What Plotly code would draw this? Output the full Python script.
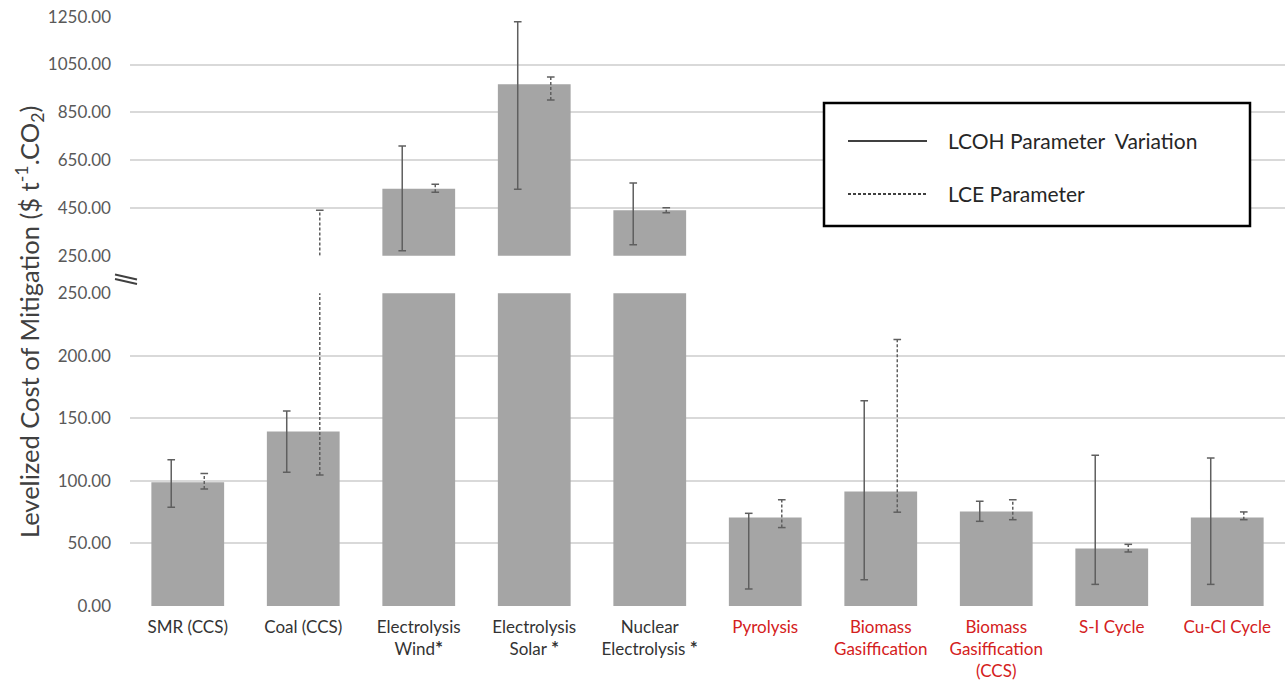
import plotly.graph_objects as go

# ---- data -------------------------------------------------------------
categories = [
    "SMR (CCS)", "Coal (CCS)", "Electrolysis Wind", "Electrolysis Solar",
    "Nuclear Electrolysis", "Pyrolysis", "Biomass Gasiffication",
    "Biomass Gasiffication (CCS)", "S-I Cycle", "Cu-Cl Cycle",
]
tick_labels = [
    "SMR (CCS)", "Coal (CCS)", "Electrolysis<br>Wind*", "Electrolysis<br>Solar *",
    "Nuclear<br>Electrolysis *", "Pyrolysis", "Biomass<br>Gasiffication",
    "Biomass<br>Gasiffication<br>(CCS)", "S-I Cycle", "Cu-Cl Cycle",
]
emerging = [False, False, False, False, False, True, True, True, True, True]

mitigation_cost = [99.0, 139.5, 530.0, 967.0, 440.0, 70.7, 91.5, 75.5, 45.9, 70.7]
lcoh_low = [79.0, 107.0, 271.0, 528.0, 296.0, 13.6, 21.0, 67.7, 17.3, 17.3]
lcoh_high = [117.0, 156.0, 709.0, 1229.0, 554.0, 74.1, 164.0, 83.7, 120.5, 118.4]
lce_low = [93.6, 104.8, 515.0, 901.0, 430.0, 62.7, 75.0, 69.0, 43.2, 69.0]
lce_high = [105.9, 440.0, 549.0, 998.0, 451.0, 85.0, 213.0, 85.0, 49.3, 75.2]

lower_ticks = [0, 50, 100, 150, 200, 250]
upper_ticks = [250, 450, 650, 850, 1050, 1250]

# ---- figure geometry ----------------------------------------------------
W, H = 1288, 684
ML, MR = 130, 3
PW = W - ML - MR


def px_x(p):
    return (p - ML) / PW


def px_y(p):
    return (H - p) / H


FONT = "Lato, 'Open Sans', sans-serif"
BAR_COLOR = "#a5a5a5"
WHISKER = "#5f5f5f"
GRID = "#d9d9d9"
RED = "#d42020"

x_idx = list(range(len(categories)))
SHIFT = 0.143     # horizontal offset of each whisker from the bar centre
CAP = 0.033       # half-width of whisker caps


def whisker_paths(lows, highs, shift):
    xs, ys, cx, cy = [], [], [], []
    for i, (lo, hi) in enumerate(zip(lows, highs)):
        xc = i + shift
        xs += [xc, xc, None]
        ys += [lo, hi, None]
        for v in (lo, hi):
            cx += [xc - CAP, xc + CAP, None]
            cy += [v, v, None]
    return xs, ys, cx, cy


lcoh_x, lcoh_y, lcoh_cx, lcoh_cy = whisker_paths(lcoh_low, lcoh_high, -SHIFT)
lce_x, lce_y, lce_cx, lce_cy = whisker_paths(lce_low, lce_high, SHIFT)

fig = go.Figure()

for xa, ya in (("x", "y"), ("x2", "y2")):
    fig.add_trace(go.Bar(
        x=x_idx, y=mitigation_cost, width=0.63, marker_color=BAR_COLOR,
        marker_line_width=0, xaxis=xa, yaxis=ya, showlegend=False,
        name="Mitigation cost", hoverinfo="skip",
    ))
    fig.add_trace(go.Scatter(
        x=lcoh_x, y=lcoh_y, mode="lines", xaxis=xa, yaxis=ya,
        line=dict(color=WHISKER, width=1.5), showlegend=False,
        name="LCOH Parameter  Variation", hoverinfo="skip",
    ))
    fig.add_trace(go.Scatter(
        x=lcoh_cx, y=lcoh_cy, mode="lines", xaxis=xa, yaxis=ya,
        line=dict(color=WHISKER, width=1.5), showlegend=False, hoverinfo="skip",
    ))
    fig.add_trace(go.Scatter(
        x=lce_x, y=lce_y, mode="lines", xaxis=xa, yaxis=ya,
        line=dict(color=WHISKER, width=1.5, dash="3px,2px"), showlegend=False,
        name="LCE Parameter", hoverinfo="skip",
    ))
    fig.add_trace(go.Scatter(
        x=lce_cx, y=lce_cy, mode="lines", xaxis=xa, yaxis=ya,
        line=dict(color=WHISKER, width=1.5), showlegend=False, hoverinfo="skip",
    ))

ticktext = []
for lab, red in zip(tick_labels, emerging):
    lab = lab.replace("*", "<span style='font-size:19px'><b>*</b></span>")
    if red:
        lab = "<br>".join(f"<span style='color:{RED}'>{part}</span>" for part in lab.split("<br>"))
    ticktext.append(lab)

lower_dom = [px_y(606), px_y(293.3)]
upper_dom = [px_y(255.7), px_y(16.7)]

fig.update_layout(
    width=W, height=H,
    margin=dict(l=ML, r=MR, t=0, b=0, autoexpand=False),
    paper_bgcolor="white", plot_bgcolor="white",
    font=dict(family=FONT, color="#404040"),
    showlegend=False,
    xaxis=dict(
        range=[-0.5, 9.5], anchor="y", tickvals=x_idx, ticktext=ticktext,
        showgrid=False, zeroline=False, showline=False, ticks="",
        tickfont=dict(size=17, color="#333333", family=FONT),
        ticklabelstandoff=9, automargin=False,
    ),
    xaxis2=dict(
        range=[-0.5, 9.5], anchor="y2", matches="x", showticklabels=False,
        showgrid=False, zeroline=False, showline=False, ticks="", automargin=False,
    ),
    yaxis=dict(
        domain=lower_dom, range=[0, 250], tickvals=lower_ticks,
        tickformat=".2f", showgrid=True, gridcolor=GRID, gridwidth=1.5,
        zeroline=True, zerolinecolor="white", zerolinewidth=2,
        showline=False, ticks="", ticklabelstandoff=18, automargin=False,
        tickfont=dict(size=17, color="#595959", family=FONT),
    ),
    yaxis2=dict(
        domain=upper_dom, range=[250, 1250], tickvals=upper_ticks,
        tickformat=".2f", showgrid=True, gridcolor=GRID, gridwidth=1.5,
        zeroline=False, showline=False, ticks="", ticklabelstandoff=18,
        automargin=False,
        tickfont=dict(size=17, color="#595959", family=FONT),
    ),
)

# baseline under the emerging-technology group
fig.add_shape(type="line", xref="x", yref="y", x0=4.5, x1=9.5, y0=0, y1=0,
              line=dict(color=GRID, width=1.5), layer="below")

# legend box
fig.add_shape(type="rect", xref="paper", yref="paper",
              x0=px_x(824), x1=px_x(1250), y0=px_y(226), y1=px_y(103),
              line=dict(color="black", width=2.5), fillcolor="white")
fig.add_shape(type="line", xref="paper", yref="paper",
              x0=px_x(848), x1=px_x(927), y0=px_y(141), y1=px_y(141),
              line=dict(color="black", width=1.3))
fig.add_shape(type="line", xref="paper", yref="paper",
              x0=px_x(848), x1=px_x(927), y0=px_y(194), y1=px_y(194),
              line=dict(color="black", width=1.3, dash="3px,2px"))
for text, ypx in (("LCOH Parameter  Variation", 141), ("LCE Parameter", 194)):
    fig.add_annotation(text=text, xref="paper", yref="paper",
                       x=px_x(946), y=px_y(ypx), xanchor="left", yanchor="middle",
                       showarrow=False, font=dict(size=21, color="#262626", family=FONT))

# axis title spanning both panels
fig.add_annotation(
    text="Levelized Cost of Mitigation ($ t<sup>-1</sup>.CO<sub>2</sub>)",
    xref="paper", yref="paper", x=px_x(29), y=px_y(322),
    xanchor="center", yanchor="middle", textangle=-90, showarrow=False,
    font=dict(size=25.5, color="#404040", family=FONT),
)

# axis break mark: two short slanted strokes between the panels
for dy in (0, 4.5):
    fig.add_shape(type="line", xref="paper", yref="paper",
                  x0=px_x(115), x1=px_x(137), y0=px_y(274.5 + dy), y1=px_y(279.5 + dy),
                  line=dict(color="#404040", width=1.8))

fig.write_html("out.html")
